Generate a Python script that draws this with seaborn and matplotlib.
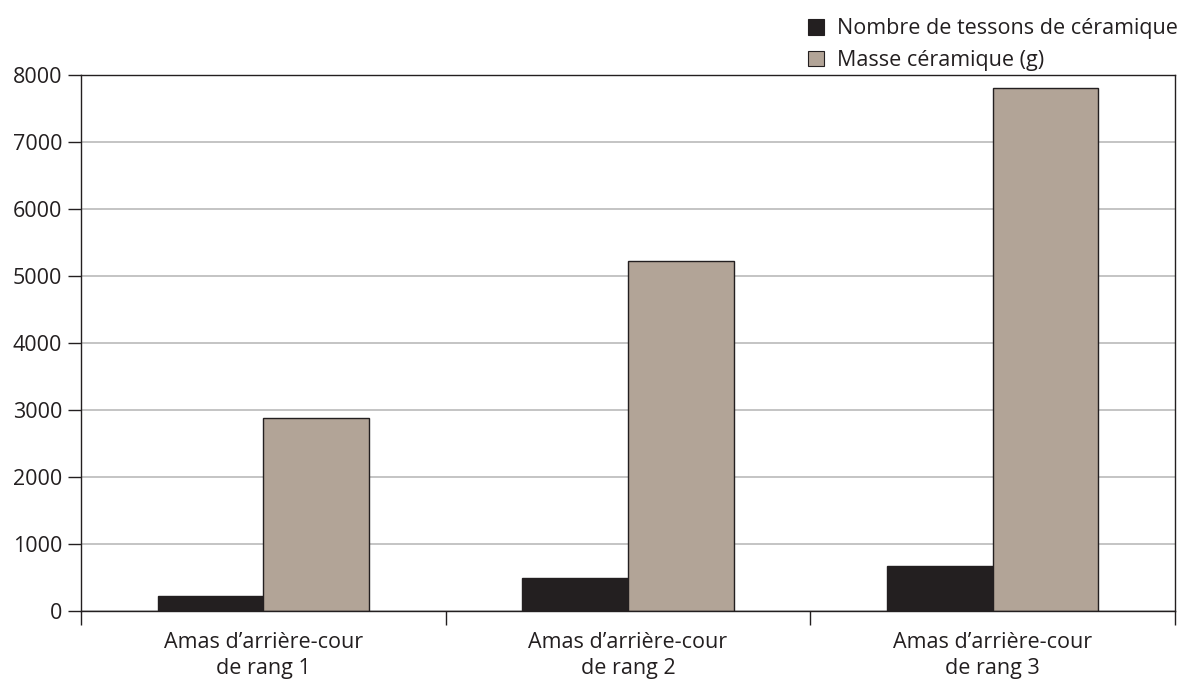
import matplotlib
matplotlib.use('Agg')
import matplotlib.pyplot as plt
import seaborn as sns
import pandas as pd
from matplotlib.patches import Patch

#%% data
categories = ["Amas d\u2019arri\u00e8re-cour\nde rang 1",
              "Amas d\u2019arri\u00e8re-cour\nde rang 2",
              "Amas d\u2019arri\u00e8re-cour\nde rang 3"]
series = ["Nombre de tessons de c\u00e9ramique", "Masse c\u00e9ramique (g)"]
tessons = [228, 496, 675]
masse = [2880, 5230, 7810]
yticks = [0, 1000, 2000, 3000, 4000, 5000, 6000, 7000, 8000]
colors = ["#231f20", "#b2a497"]

df = pd.DataFrame({
    "cat": categories * 2,
    "serie": [series[0]] * 3 + [series[1]] * 3,
    "val": tessons + masse,
})

#%% plot
sns.set_style("white")
plt.rcParams['font.family'] = ['Open Sans', 'DejaVu Sans']
dark = "#231f20"
fs = 15.5

fig = plt.figure(figsize=(11.82, 6.84), dpi=100)
ax = fig.add_axes([0.0685, 0.1067, 0.9255, 0.7833])

sns.barplot(data=df, x="cat", y="val", hue="serie", palette=colors,
            width=0.58, edgecolor=dark, linewidth=1, saturation=1,
            ax=ax, legend=False)

ax.set_ylim(0, 8000)
ax.set_xlim(-0.5, 2.5)
ax.set_yticks(yticks)
ax.set_yticklabels([str(v) for v in yticks], fontsize=fs, color=dark)
ax.yaxis.grid(True, color="#c4c4c4", linewidth=1.4)
ax.set_axisbelow(True)

# category separators as major ticks, labels on minor ticks
ax.set_xticks([-0.5, 0.5, 1.5, 2.5])
ax.set_xticklabels([])
ax.set_xticks([0, 1, 2], minor=True)
ax.set_xticklabels(categories, minor=True, fontsize=fs, color=dark,
                   linespacing=1.3)
ax.tick_params(axis='x', which='major', direction='out', length=10,
               width=1, color=dark, bottom=True)
ax.tick_params(axis='x', which='minor', length=0, pad=15)
ax.tick_params(axis='y', direction='out', length=9.5, width=1, color=dark,
               left=True, pad=4)
ax.set_xlabel("")
ax.set_ylabel("")

for sp in ax.spines.values():
    sp.set_visible(True)
    sp.set_color(dark)
    sp.set_linewidth(1)

handles = [Patch(facecolor=c, edgecolor=dark, linewidth=0.8) for c in colors]
fig.legend(handles, series, loc='upper left', bbox_to_anchor=(0.668, 1.0),
           frameon=False, fontsize=fs, handlelength=0.75, handleheight=0.75,
           handletextpad=0.6, labelspacing=0.5, borderaxespad=0.45,
           labelcolor=dark)

fig.savefig("out.png", dpi=100)
